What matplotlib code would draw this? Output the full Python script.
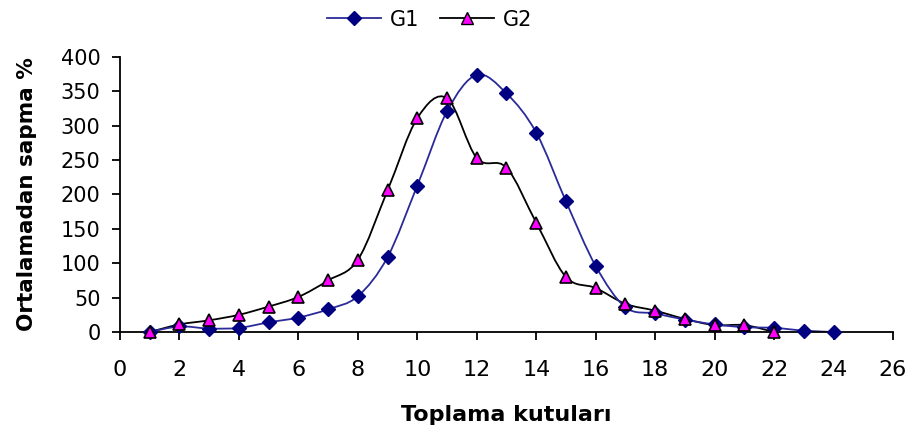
import matplotlib
matplotlib.use("Agg")
import matplotlib.pyplot as plt
from matplotlib.path import Path
from matplotlib.patches import PathPatch
from matplotlib.lines import Line2D
import numpy as np

# data
g1_x = list(range(1, 25))
g1_y = [0, 8, 5, 6, 14, 21, 33, 52, 109, 213, 321, 374, 347, 290, 190, 96,
        36, 27, 18, 11, 7, 6, 2, 0]
g2_x = list(range(1, 23))
g2_y = [0, 11, 17, 25, 37, 51, 75, 105, 206, 311, 340, 253, 239, 159, 80, 64,
        41, 31, 19, 10, 10, 0]

x_ticks = list(range(0, 27, 2))
y_ticks = list(range(0, 401, 50))

G1_COL = "#000080"
G1_LINE = "#2a2a9a"
G2_COL = "#ff00ff"


def smooth_path(xs, ys):
    # excel-like smoothed line: catmull-rom drawn as cubic bezier segments
    p = np.column_stack([xs, ys]).astype(float)
    n = len(p)
    verts = [p[0]]
    codes = [Path.MOVETO]
    for i in range(n - 1):
        p0 = p[i - 1] if i > 0 else p[i]
        p1 = p[i]
        p2 = p[i + 1]
        p3 = p[i + 2] if i + 2 < n else p[i + 1]
        c1 = p1 + (p2 - p0) / 6.0
        c2 = p2 - (p3 - p1) / 6.0
        verts += [c1, c2, p2]
        codes += [Path.CURVE4] * 3
    return Path(verts, codes)


fig = plt.figure(figsize=(9.14, 4.37), dpi=100)
ax = fig.add_axes([0.1313, 0.2403, 0.977 - 0.1313, 0.8696 - 0.2403])

ax.add_patch(PathPatch(smooth_path(g2_x, g2_y), fill=False, edgecolor="black", lw=1.3, zorder=2))
ax.add_patch(PathPatch(smooth_path(g1_x, g1_y), fill=False, edgecolor=G1_LINE, lw=1.3, zorder=2))

ax.plot(g1_x, g1_y, linestyle="none", marker="D", markersize=7.5,
        markerfacecolor=G1_COL, markeredgecolor=G1_COL, zorder=3, clip_on=False)
ax.plot(g2_x, g2_y, linestyle="none", marker="^", markersize=9,
        markerfacecolor=G2_COL, markeredgecolor="black", markeredgewidth=1.2,
        zorder=4, clip_on=False)

ax.set_xlim(0, 26)
ax.set_ylim(0, 400)
ax.set_xticks(x_ticks)
ax.set_yticks(y_ticks)
ax.tick_params(direction="out", length=6, width=1.3, labelsize=15,
               colors="black")
ax.tick_params(axis="x", pad=14, labelsize=16)
ax.tick_params(axis="y", pad=8)
for s in ["top", "right"]:
    ax.spines[s].set_visible(False)
for s in ["left", "bottom"]:
    ax.spines[s].set_linewidth(1.3)

ax.set_xlabel("Toplama kutuları", fontsize=16, fontweight="bold", labelpad=18)
ax.set_ylabel("Ortalamadan sapma %", fontsize=15.5, fontweight="bold", labelpad=17)

handles = [
    Line2D([], [], color=G1_LINE, lw=1.3, marker="D", markersize=7.5,
           markerfacecolor=G1_COL, markeredgecolor=G1_COL),
    Line2D([], [], color="black", lw=1.3, marker="^", markersize=9,
           markerfacecolor=G2_COL, markeredgecolor="black"),
]
fig.legend(handles, ["G1", "G2"], loc="center", bbox_to_anchor=(0.47, 0.955),
           ncol=2, frameon=False, fontsize=15, handlelength=2.6,
           handletextpad=0.4, columnspacing=1.0)

fig.savefig("out.png", dpi=100)
